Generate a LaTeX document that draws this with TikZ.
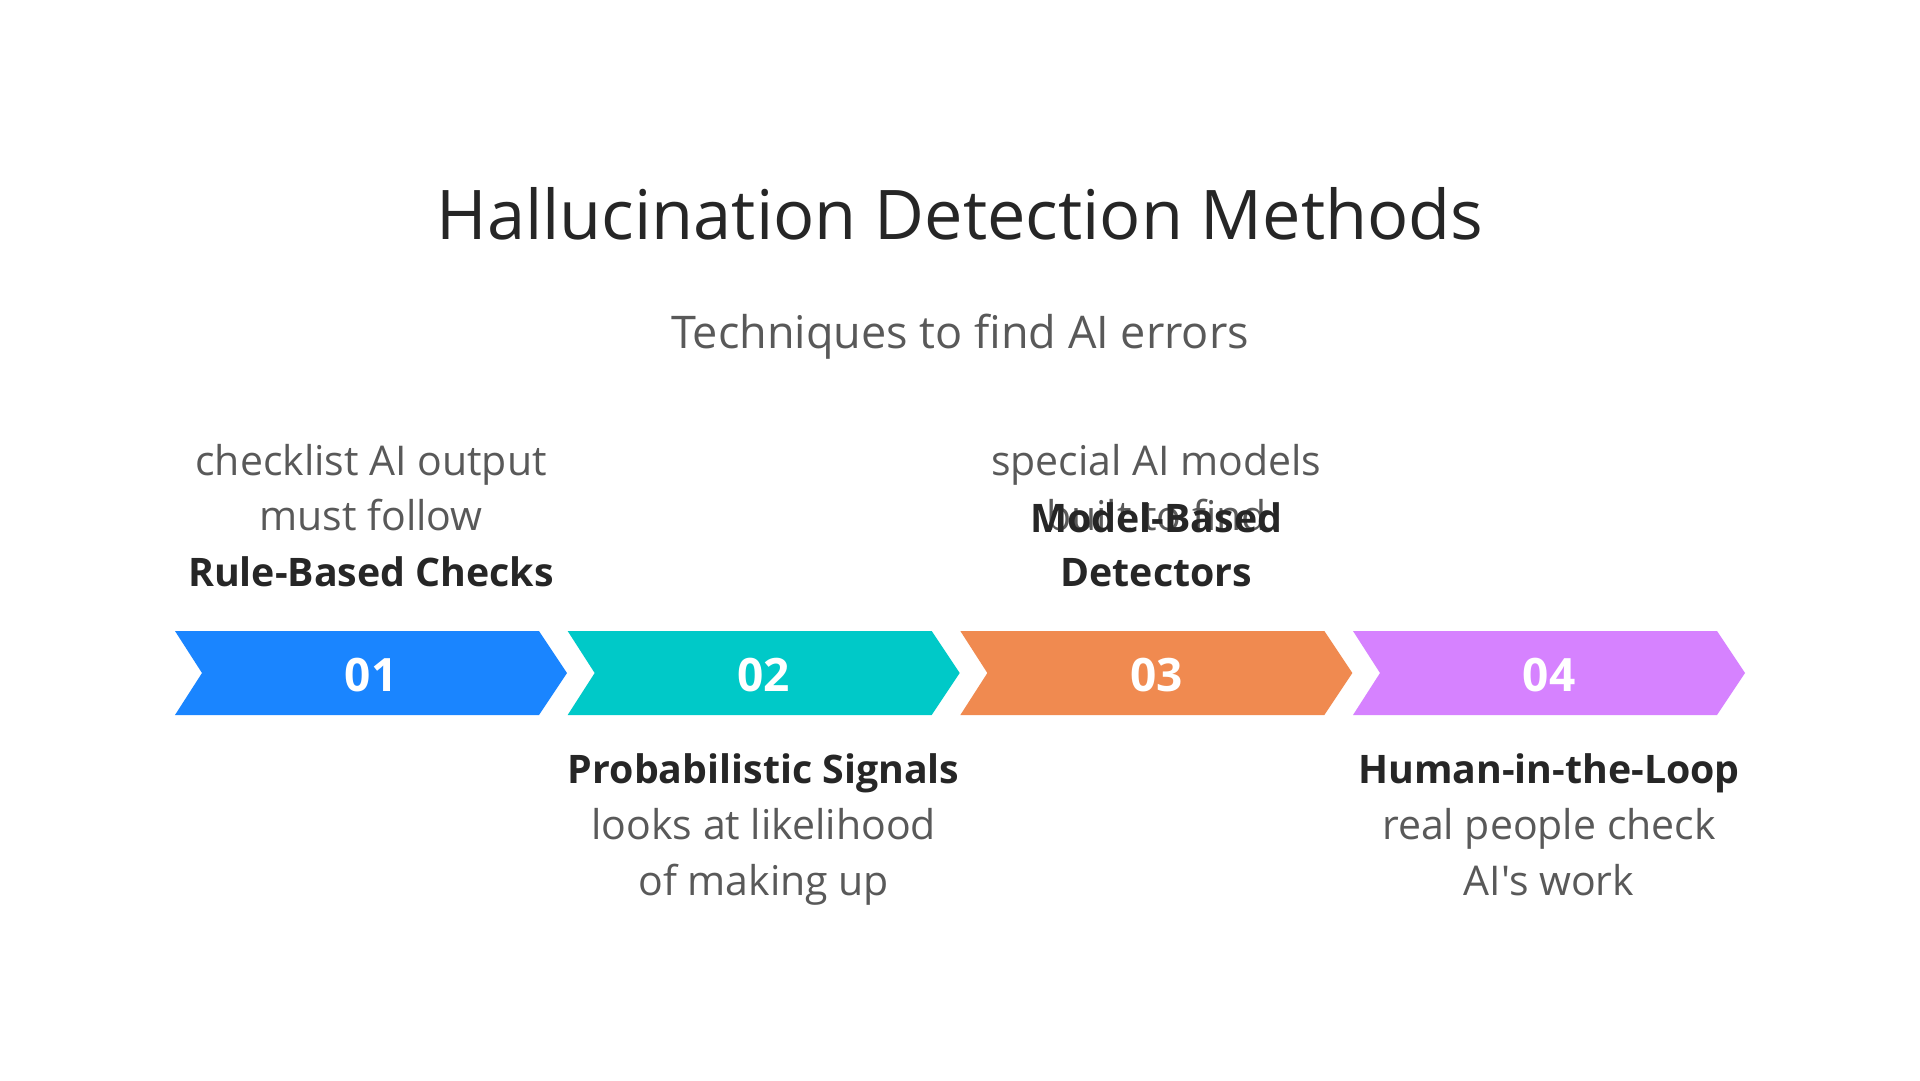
\documentclass[tikz,border=0pt]{standalone}
\usepackage{fontspec}
\setmainfont{Open Sans}[Ligatures=TeXOff]
\definecolor{cblue}{HTML}{1A85FF}
\definecolor{cteal}{HTML}{00C9C8}
\definecolor{corange}{HTML}{F08A50}
\definecolor{cpurple}{HTML}{D682FF}
\definecolor{dark}{HTML}{262626}
\definecolor{grey}{HTML}{595959}
\tikzset{
  titletext/.style={anchor=base, inner sep=0pt, text=dark, font=\fontsize{68.5}{80}\selectfont},
  subtext/.style={anchor=base, inner sep=0pt, text=grey, font=\fontsize{45}{52}\selectfont},
  desctext/.style={anchor=base, inner sep=0pt, text=grey, font=\fontsize{41}{48}\selectfont},
  headtext/.style={anchor=base, inner sep=0pt, text=dark, font=\fontsize{39.3}{46}\selectfont\bfseries},
  numtext/.style={anchor=base, inner sep=0pt, text=white, font=\fontsize{46}{54}\selectfont\bfseries},
}
\begin{document}
\begin{tikzpicture}[x=1pt,y=-1pt]
\useasboundingbox (0,0) rectangle (1920,1080);
\fill[white] (0,0) rectangle (1920,1080);

% chevrons
\foreach \i/\c in {0/cblue,1/cteal,2/corange,3/cpurple}{
  \pgfmathsetmacro{\xo}{175+\i*392.67}
  \fill[\c] (\xo,631) -- (\xo+364,631) -- (\xo+392,673) -- (\xo+364,715) -- (\xo,715) -- (\xo+27,673) -- cycle;
}

% title
\node[titletext] (title) at (960,239) {Hallucination Detection Methods};
\node[subtext] (subtitle) at (960,348) {Techniques to find AI errors};

% numbers
\node[numtext] (n1) at (371,691) {01};
\node[numtext] (n2) at (763.7,691) {02};
\node[numtext] (n3) at (1156.3,691) {03};
\node[numtext] (n4) at (1549,691) {04};

% step 1 (above)
\node[desctext] (d1a) at (371,475) {checklist AI output};
\node[desctext] (d1b) at (371,530) {must follow};
\node[headtext] (h1) at (371,586) {Rule-Based Checks};

% step 2 (below)
\node[headtext] (h2) at (763.7,783) {Probabilistic Signals};
\node[desctext] (d2a) at (763.7,839) {looks at likelihood};
\node[desctext] (d2b) at (763.7,895) {of making up};

% step 3 (above)
\node[desctext] (d3a) at (1156.3,475) {special AI models};
\node[desctext] (d3b) at (1156.3,530) {built to find};
\node[headtext] (h3a) at (1156.3,532) {Model-Based};
\node[headtext] (h3b) at (1156.3,586) {Detectors};

% step 4 (below)
\node[headtext] (h4) at (1549,783) {Human-in-the-Loop};
\node[desctext] (d4a) at (1549,839) {real people check};
\node[desctext] (d4b) at (1549,895) {AI's work};
\end{tikzpicture}
\end{document}
